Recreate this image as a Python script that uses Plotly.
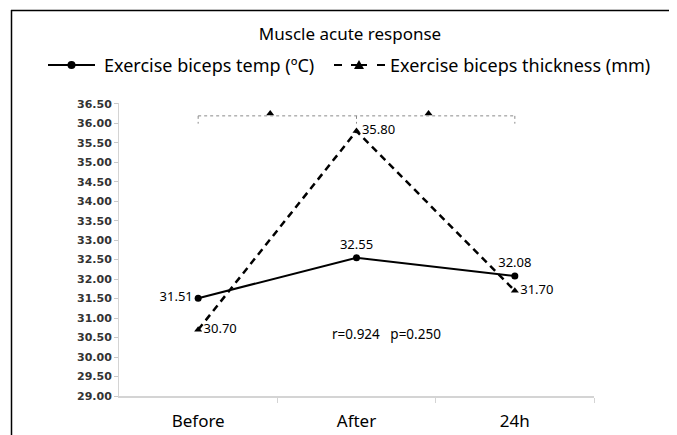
import plotly.graph_objects as go

# Data
categories = ["Before", "After", "24h"]
x_pos = [0, 1, 2]
temp_values = [31.51, 32.55, 32.08]
thickness_values = [30.70, 35.80, 31.70]
temp_labels = ["31.51", "32.55", "32.08"]
thickness_labels = ["30.70", "35.80", "31.70"]
bracket_y = 36.19
bracket_tip = 35.99
bracket_marks_x = [0.455, 1.455]
temp_name = "Exercise biceps temp (ºC)"
thick_name = "Exercise biceps thickness (mm)"
stats_text = "r=0.924   p=0.250"

FONT = "Noto Sans"

# Helpers: convert reference-pixel positions into paper coords
# (plot area spans x 119..594, y 103..396 in the reference picture)
def px(x):
    return (x - 119) / 475


def py(y):
    return (396 - y) / 293


fig = go.Figure()

# Line 1 -- biceps temp
fig.add_trace(go.Scatter(
    x=x_pos, y=temp_values,
    name=temp_name,
    mode="lines+markers+text",
    line=dict(color="black", width=2),
    marker=dict(symbol="circle", size=7, color="black"),
    text=temp_labels,
    textposition=["middle left", "top center", "top center"],
    textfont=dict(size=13, color="black", family=FONT),
    showlegend=False,
))

# Line 2 -- biceps thickness
fig.add_trace(go.Scatter(
    x=x_pos, y=thickness_values,
    name=thick_name,
    mode="lines+markers+text",
    line=dict(color="black", width=2.5, dash="7px,5px"),
    marker=dict(symbol="triangle-up", size=7, color="black"),
    text=thickness_labels,
    textposition=["middle right", "middle right", "middle right"],
    textfont=dict(size=13, color="black", family=FONT),
    showlegend=False,
))

# Significance bracket markers
fig.add_trace(go.Scatter(
    x=bracket_marks_x, y=[bracket_y + 0.06] * len(bracket_marks_x),
    mode="markers",
    marker=dict(symbol="triangle-up", size=7, color="black"),
    showlegend=False, hoverinfo="skip",
))

gray = "#8a8a8a"
fig.add_shape(type="line", x0=x_pos[0], x1=x_pos[-1], y0=bracket_y, y1=bracket_y,
              line=dict(color=gray, width=1, dash="dot"))
for xv in x_pos:
    fig.add_shape(type="line", x0=xv, x1=xv, y0=bracket_y, y1=bracket_tip,
                  line=dict(color=gray, width=1, dash="dot"))

# Stats note
fig.add_annotation(x=1.19, y=30.585, text=stats_text, showarrow=False,
                   font=dict(size=13.5, color="black", family=FONT))

# Manual legend
leg_y = 65
fig.add_shape(type="line", xref="paper", yref="paper",
              x0=px(48), x1=px(95), y0=py(leg_y), y1=py(leg_y),
              line=dict(color="black", width=2))
fig.add_shape(type="circle", xref="paper", yref="paper",
              x0=px(67.5), x1=px(75.5), y0=py(leg_y + 4), y1=py(leg_y - 4),
              fillcolor="black", line=dict(color="black", width=0))
fig.add_annotation(xref="paper", yref="paper", x=px(102), y=py(leg_y),
                   xanchor="left", yanchor="middle", showarrow=False,
                   text=temp_name, font=dict(size=18, family=FONT, color="black"))
for x0, x1 in [(334, 342), (377, 385)]:
    fig.add_shape(type="line", xref="paper", yref="paper",
                  x0=px(x0), x1=px(x1), y0=py(leg_y), y1=py(leg_y),
                  line=dict(color="black", width=2))
fig.add_shape(type="line", xref="paper", yref="paper",
              x0=px(351), x1=px(367), y0=py(leg_y), y1=py(leg_y),
              line=dict(color="black", width=2))
fig.add_shape(type="path", xref="paper", yref="paper",
              path=f"M {px(354)},{py(leg_y + 4)} L {px(364)},{py(leg_y + 4)} "
                   f"L {px(359)},{py(leg_y - 5)} Z",
              fillcolor="black", line=dict(color="black", width=0))
fig.add_annotation(xref="paper", yref="paper", x=px(388), y=py(leg_y),
                   xanchor="left", yanchor="middle", showarrow=False,
                   text=thick_name, font=dict(size=18, family=FONT, color="black"))

# Outer frame (cropped on right/bottom)
fig.add_shape(type="line", xref="paper", yref="paper",
              x0=px(11), x1=px(700), y0=py(10.5), y1=py(10.5),
              line=dict(color="black", width=1.5))
fig.add_shape(type="line", xref="paper", yref="paper",
              x0=px(11.5), x1=px(11.5), y0=py(10), y1=py(460),
              line=dict(color="black", width=1.5))

# Layout (page body adds 8px margin, so figure is 8px smaller)
fig.update_layout(
    width=669, height=427,
    margin=dict(l=111, r=83, t=95, b=39, autoexpand=False),
    paper_bgcolor="white", plot_bgcolor="white",
    font=dict(family=FONT, color="black"),
    title=dict(text="Muscle acute response", x=(350 - 8) / 669, xref="container",
               xanchor="center", y=1 - (34 - 8) / 427, yref="container",
               yanchor="middle", font=dict(size=17, family=FONT, color="black")),
    showlegend=False,
)

fig.update_xaxes(
    range=[-0.5, 2.5],
    tickvals=x_pos, ticktext=categories,
    ticks="", tickfont=dict(size=17, family=FONT, color="black"),
    ticklabelstandoff=9,
    showline=True, linecolor="#d4d4d4", linewidth=1.5,
    showgrid=False, zeroline=False,
    minor=dict(tickvals=[0.5, 1.5, 2.5], ticks="outside", ticklen=5,
               tickcolor="#d4d4d4", showgrid=False),
)

fig.update_yaxes(
    range=[29.0, 36.52],
    tickmode="linear", tick0=29.0, dtick=0.5, tickformat=".2f",
    ticks="outside", ticklen=4, tickcolor="#c8c8c8",
    tickfont=dict(size=11, family="DejaVu Sans", color="#333333", weight="bold"),
    ticklabeloverflow="allow",
    showline=True, linecolor="#d4d4d4", linewidth=1,
    showgrid=False, zeroline=False,
)

fig.write_html("out.html")
